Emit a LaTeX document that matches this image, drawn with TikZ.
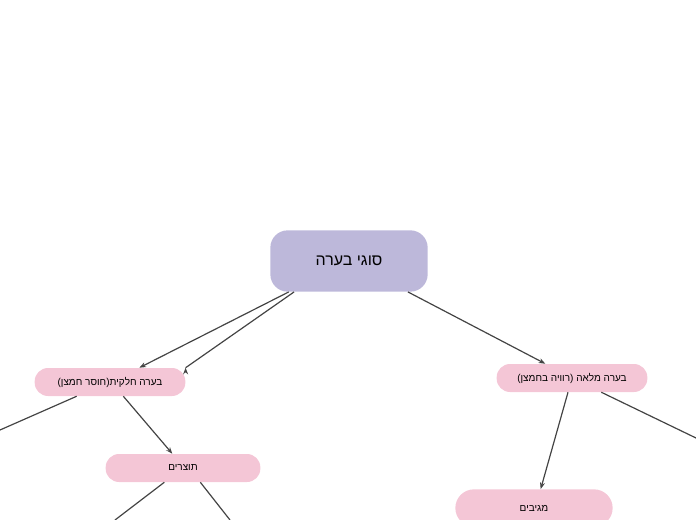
\documentclass[tikz,border=0pt]{standalone}
\usepackage{fontspec}
\newfontfamily\hebfont[Script=Hebrew]{Liberation Sans}
\TeXXeTstate=1
\definecolor{rootcolor}{HTML}{bdb8da}
\definecolor{leafcolor}{HTML}{f4c6d6}
\definecolor{linecolor}{HTML}{444444}
\tikzset{
  topic/.style = {fill = rootcolor, rounded corners = 13pt, minimum width = 118pt, minimum height = 46pt, font = \hebfont\fontsize{12}{14}\selectfont},
  subtopic/.style = {fill = leafcolor, rounded corners = 10pt, minimum width = 113pt, minimum height = 21pt, font = \hebfont\fontsize{7.5}{9}\selectfont},
  link/.style = {draw = linecolor, line width = 0.9pt},
  arrowlink/.style = {link, -{Stealth[length = 5pt]}}
}
\usetikzlibrary{arrows.meta}
\begin{document}
\begin{tikzpicture}[x = 0.75pt, y = -0.75pt]
        \useasboundingbox (0, 0) rectangle (696, 520);
        \clip (0, 0) rectangle (696, 520);

        \node [topic] (root) at (349, 261) {\beginR סוגי בערה\endR};
        \node [subtopic] (partial) at (110, 382) {\beginR בערה חלקית(חוסר חמצן)\endR};
        \node [subtopic] (full) at (572, 378) {\beginR בערה מלאה (רוויה בחמצן)\endR};
        \node [subtopic, minimum width = 116pt] (products) at (183, 468) {\beginR תוצרים\endR};
        \node [subtopic, minimum width = 118pt, minimum height = 28pt, rounded corners = 14pt] (reactants) at (534, 508) {\beginR מגיבים\endR};

        % off-page ends
        \coordinate (offa) at (0, 430);
        \coordinate (offb) at (115, 520);
        \coordinate (offc) at (230, 520);
        \coordinate (offd) at (696, 438);

        % arrows
        \draw [arrowlink] (root.south west) ++(18pt, 0pt) -- (partial.north east) ++(0pt, 0pt);
        \draw [arrowlink] ([xshift = 14pt] root.south west) -- ([xshift = 22pt] partial.north);
        \draw [arrowlink] ([xshift = -15pt] root.south east) -- ([xshift = -20pt] full.north);
        \draw [arrowlink] ([xshift = 10pt] partial.south) -- ([xshift = -8pt] products.north);
        \draw [arrowlink] ([xshift = -3pt] full.south) -- ([xshift = 5pt] reactants.north);

        % plain lines
        \draw [link] ([xshift = -25pt] partial.south) -- (offa);
        \draw [link] ([xshift = -14pt] products.south) -- (offb);
        \draw [link] ([xshift = 13pt] products.south) -- (offc);
        \draw [link] ([xshift = 22pt] full.south) -- (offd);
\end{tikzpicture}
\end{document}
